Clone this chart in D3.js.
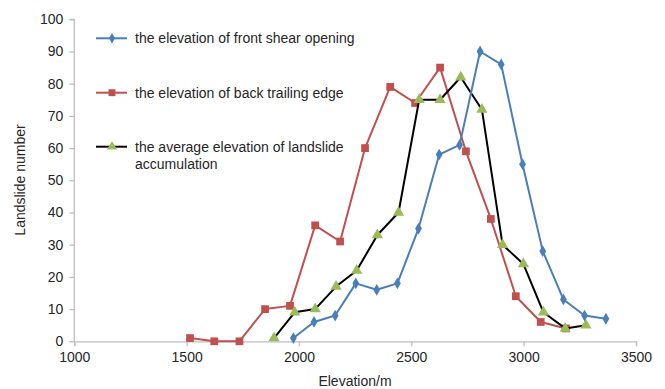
<!DOCTYPE html>
<html><head><meta charset="utf-8">
<script src="https://cdn.jsdelivr.net/npm/d3@7"></script>
<style>
body{margin:0;background:#fff;}
svg{display:block;font-family:"Liberation Sans",Arial,sans-serif;}
</style></head>
<body><svg id="c" width="665" height="389"></svg>
<script>
const xTicks = [1000,1500,2000,2500,3000,3500];
const yTicks = [0,10,20,30,40,50,60,70,80,90,100];
const seriesNames = ["the elevation of front shear opening","the elevation of back trailing edge","the average elevation of landslide accumulation"];
const frontX = [1975,2067,2161,2253,2346,2438,2532,2624,2715,2806,2900,2995,3085,3177,3271,3366];
const frontY = [1,6,8,18,16,18,35,58,61,90,86,55,28,13,8,7];
const backX = [1515,1623,1735,1849,1960,2072,2183,2294,2406,2517,2628,2743,2854,2965,3076,3188];
const backY = [1,0,0,10,11,36,31,60,79,74,85,59,38,14,6,4];
const avgX = [1889,1981,2072,2165,2257,2349,2443,2535,2628,2720,2814,2906,2999,3088,3185,3277];
const avgY = [1,9,10,17,22,33,40,75,75,82,72,30,24,9,4,5];

const svg = d3.select("#c");
const x = d3.scaleLinear().domain([1000,3500]).range([74.3,636]);
const y = d3.scaleLinear().domain([0,100]).range([341.3,19.3]);
const axisColor = "#bfbfbf";

const gx = svg.append("g").attr("transform","translate(0,341.3)")
  .call(d3.axisBottom(x).tickValues(xTicks).tickSize(5).tickPadding(6).tickFormat(d3.format("d")));
const gy = svg.append("g").attr("transform","translate(74.3,0)")
  .call(d3.axisLeft(y).tickValues(yTicks).tickSize(5).tickPadding(6));
[gx,gy].forEach(g=>{
  g.select(".domain").attr("stroke",axisColor).attr("stroke-width",1.3);
  g.selectAll(".tick line").attr("stroke",axisColor).attr("stroke-width",1.3);
  g.selectAll(".tick text").attr("fill","#262626").attr("font-size",14).attr("font-family","'Liberation Sans',Arial,sans-serif");
});
gy.select(".domain").attr("d","M-5,19.3H0V341.3");

svg.append("text").attr("x",355).attr("y",386).attr("text-anchor","middle")
  .attr("font-size",14).attr("fill","#262626").text("Elevation/m");
svg.append("text").attr("transform","translate(25,180) rotate(-90)").attr("text-anchor","middle")
  .attr("font-size",14).attr("fill","#262626").text("Landslide number");

const series = [
  {xs:backX, ys:backY, line:"#c0504d", fill:"#c0504d", sym:d3.symbolSquare, size:60},
  {xs:avgX, ys:avgY, line:"#000000", fill:"#9bbb59", sym:d3.symbolTriangle, size:55},
  {xs:frontX, ys:frontY, line:"#4a7ebb", fill:"#4a7ebb", sym:d3.symbolDiamond, size:40},
];
const legendOrder = [2,0,1];
const line = d3.line().x(d=>x(d[0])).y(d=>y(d[1]));
series.forEach(s=>{
  const pts = s.xs.map((v,i)=>[v,s.ys[i]]);
  svg.append("path").attr("d",line(pts)).attr("fill","none").attr("stroke",s.line).attr("stroke-width",2).attr("stroke-linejoin","round");
  svg.append("g").selectAll("path").data(pts).join("path")
    .attr("transform",d=>`translate(${x(d[0])},${y(d[1])})`)
    .attr("d",d3.symbol().type(s.sym).size(s.size)).attr("fill",s.fill);
});

// legend
const legY = [38.3,92.7,146.7];
legendOrder.forEach((si,k)=>{
  const s = series[si];
  const g = svg.append("g").attr("transform",`translate(0,${legY[k]})`);
  g.append("line").attr("x1",96).attr("x2",127).attr("stroke",s.line).attr("stroke-width",2);
  g.append("path").attr("transform","translate(112,0)").attr("d",d3.symbol().type(s.sym).size(s.size*0.8)).attr("fill",s.fill);
  const t = g.append("text").attr("x",135).attr("y",5).attr("font-size",14).attr("fill","#262626");
  if(k===2){
    t.text("the average elevation of landslide");
    g.append("text").attr("x",135).attr("y",22).attr("font-size",14).attr("fill","#262626").text("accumulation");
  } else t.text(seriesNames[k]);
});
</script></body></html>
